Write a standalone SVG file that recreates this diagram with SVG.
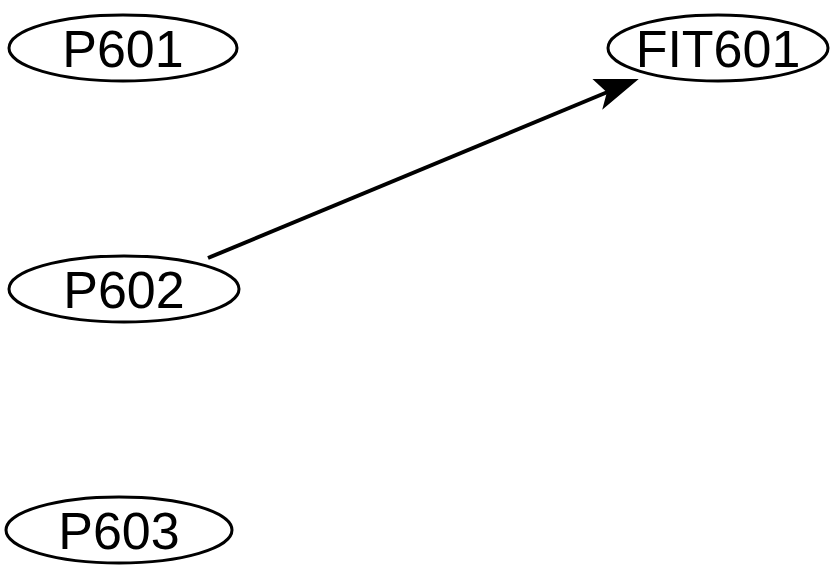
<svg xmlns="http://www.w3.org/2000/svg" width="831" height="588" viewBox="0 0 831 588">
<style>
.n ellipse{fill:#fff;stroke:#000;stroke-width:3}
.n text{font-family:"Liberation Sans",Arial,sans-serif;font-size:52px;text-anchor:middle;fill:#000}
.e{stroke:#000;stroke-width:4;fill:none}
</style>
<rect width="831" height="588" fill="#fff"/>
<g id="connectors"><line class="e" x1="208" y1="258" x2="610" y2="91"/>
<path d="M636,80 L604,107 L608,92 L595,80 Z" fill="#000" stroke="#000" stroke-width="2"/></g>
<g id="P601" class="n"><ellipse cx="123" cy="48" rx="114" ry="33"/><text x="123" y="67">P601</text></g>
<g id="FIT601" class="n"><ellipse cx="718" cy="48" rx="110" ry="33"/><text x="718" y="67">FIT601</text></g>
<g id="P602" class="n"><ellipse cx="124" cy="289" rx="115" ry="33"/><text x="124" y="308">P602</text></g>
<g id="P603" class="n"><ellipse cx="119" cy="530" rx="113" ry="33"/><text x="119" y="549">P603</text></g>
</svg>
